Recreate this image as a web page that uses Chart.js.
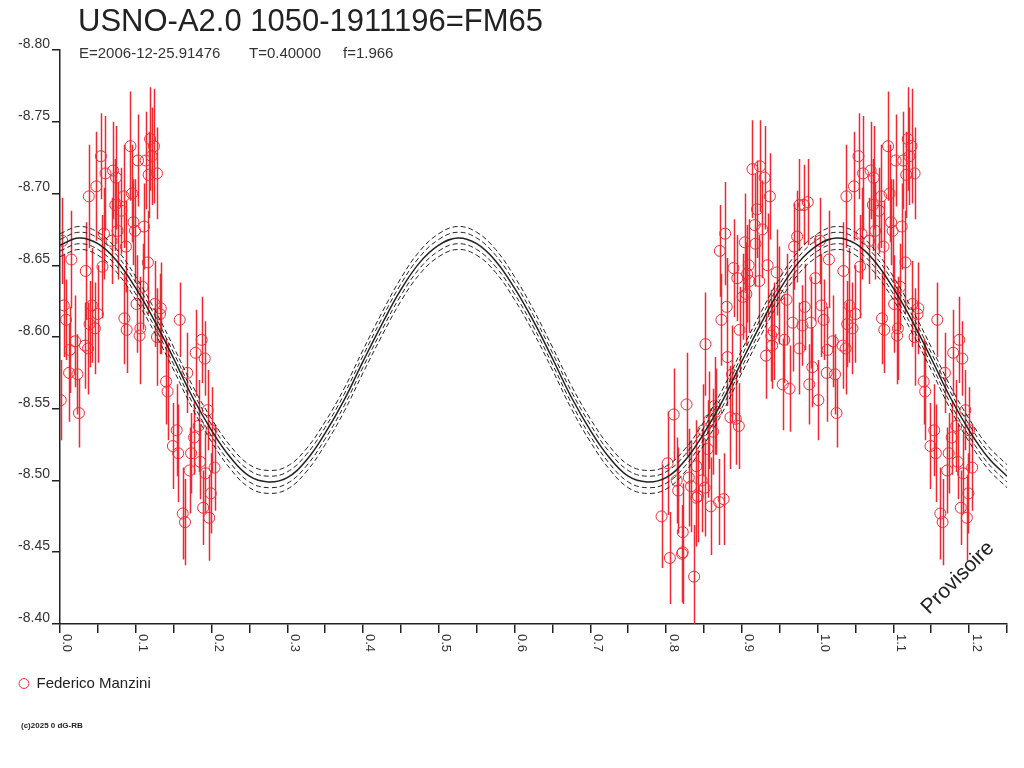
<!DOCTYPE html>
<html>
<head>
<meta charset="utf-8">
<title>USNO-A2.0 1050-1911196=FM65</title>
<script src="https://cdn.jsdelivr.net/npm/chart.js@4.4.1/dist/chart.umd.min.js"></script>
<style>
    html, body { margin: 0; padding: 0; background: #fff; }
    #wrap { position: relative; width: 1024px; height: 768px; }
</style>
</head>
<body>
<div id="wrap"><canvas id="lightCurve"></canvas></div>
<script>
// observations, phase 0.0 - 0.2 (shown again one cycle later)
const obsPhaseA = [
    0.003, 0.015, 0.005, 0.008, 0.020, 0.033, 0.034, 0.038, 0.042, 0.039,
    0.046, 0.050, 0.048, 0.054, 0.056, 0.058, 0.060, 0.070, 0.074, 0.068,
    0.073, 0.076, 0.081, 0.084, 0.087, 0.093, 0.095, 0.097, 0.099, 0.103,
    0.111, 0.113, 0.119, 0.124, 0.121, 0.117, 0.128, 0.116, 0.109, 0.101,
    0.085, 0.088, 0.106, 0.105, 0.125, 0.133, 0.132, 0.128, 0.158, 0.187,
    0.001, 0.012, 0.013, 0.023, 0.025, 0.037, 0.140, 0.142, 0.168, 0.179,
    0.191, 0.154, 0.149, 0.156, 0.173, 0.171, 0.177, 0.183, 0.195, 0.200,
    0.185, 0.192, 0.204, 0.199, 0.189, 0.197, 0.162, 0.165
];
const obsMagA = [
    -8.667, -8.654, -8.622, -8.612, -8.597, -8.594, -8.646, -8.698, -8.622, -8.609,
    -8.606, -8.616, -8.705, -8.726, -8.649, -8.672, -8.714, -8.716, -8.711, -8.667,
    -8.692, -8.674, -8.688, -8.698, -8.663, -8.733, -8.700, -8.680, -8.674, -8.723,
    -8.677, -8.723, -8.738, -8.733, -8.726, -8.713, -8.714, -8.652, -8.635, -8.623,
    -8.613, -8.605, -8.606, -8.601, -8.623, -8.620, -8.616, -8.600, -8.612, -8.598,
    -8.556, -8.575, -8.591, -8.574, -8.547, -8.592, -8.569, -8.562, -8.575, -8.589,
    -8.585, -8.535, -8.524, -8.519, -8.519, -8.507, -8.530, -8.538, -8.549, -8.535,
    -8.513, -8.505, -8.509, -8.491, -8.481, -8.474, -8.477, -8.471
];
const obsErrA = [
    0.030, 0.034, 0.036, 0.028, 0.032, 0.030, 0.034, 0.036, 0.040, 0.030,
    0.032, 0.034, 0.038, 0.030, 0.036, 0.032, 0.040, 0.034, 0.036, 0.030,
    0.032, 0.034, 0.030, 0.036, 0.032, 0.038, 0.034, 0.030, 0.036, 0.032,
    0.030, 0.034, 0.036, 0.040, 0.034, 0.030, 0.032, 0.036, 0.030, 0.034,
    0.032, 0.030, 0.036, 0.034, 0.030, 0.032, 0.028, 0.034, 0.026, 0.030,
    0.028, 0.034, 0.030, 0.028, 0.024, 0.032, 0.030, 0.034, 0.028, 0.030,
    0.026, 0.032, 0.030, 0.034, 0.028, 0.030, 0.026, 0.032, 0.028, 0.030,
    0.026, 0.028, 0.030, 0.028, 0.026, 0.030, 0.032, 0.030
];

// observations, phase 0.79 - 1.0
const obsPhaseB = [
    0.914, 0.924, 0.930, 0.937, 0.920, 0.976, 0.987, 0.982, 0.917, 0.927,
    0.878, 0.871, 0.904, 0.918, 0.973, 0.969, 0.889, 0.934, 0.909, 0.946,
    0.907, 0.894, 0.910, 0.923, 0.997, 0.949, 0.959, 0.901, 0.906, 0.880,
    0.873, 0.983, 0.967, 0.980, 0.991, 0.897, 0.942, 0.939, 0.956, 0.852,
    0.940, 0.976, 0.881, 0.932, 0.993, 0.887, 0.954, 0.963, 0.989, 0.827,
    0.810, 0.864, 0.866, 0.885, 0.892, 0.896, 0.857, 0.849, 0.862, 0.855,
    0.802, 0.840, 0.830, 0.814, 0.847, 0.833, 0.851, 0.816, 0.842, 0.840,
    0.876, 0.870, 0.859, 0.794, 0.822, 0.822, 0.821, 0.805, 0.837
];
const obsMagB = [
    -8.717, -8.719, -8.711, -8.698, -8.689, -8.692, -8.694, -8.692, -8.678, -8.675,
    -8.672, -8.660, -8.666, -8.665, -8.670, -8.663, -8.648, -8.650, -8.650, -8.645,
    -8.644, -8.641, -8.639, -8.639, -8.641, -8.629, -8.626, -8.628, -8.630, -8.621,
    -8.612, -8.621, -8.610, -8.608, -8.610, -8.605, -8.604, -8.601, -8.598, -8.595,
    -8.594, -8.592, -8.586, -8.587, -8.579, -8.574, -8.567, -8.564, -8.567, -8.553,
    -8.546, -8.552, -8.548, -8.544, -8.543, -8.538, -8.542, -8.535, -8.534, -8.522,
    -8.512, -8.510, -8.502, -8.500, -8.500, -8.496, -8.495, -8.493, -8.489, -8.488,
    -8.487, -8.485, -8.482, -8.475, -8.464, -8.450, -8.449, -8.446, -8.433
];
const obsErrB = [
    0.034, 0.032, 0.036, 0.030, 0.034, 0.032, 0.030, 0.028, 0.036, 0.034,
    0.036, 0.032, 0.034, 0.030, 0.032, 0.030, 0.034, 0.036, 0.032, 0.030,
    0.034, 0.030, 0.036, 0.032, 0.030, 0.034, 0.032, 0.030, 0.036, 0.034,
    0.032, 0.030, 0.034, 0.028, 0.032, 0.030, 0.034, 0.032, 0.030, 0.036,
    0.030, 0.032, 0.034, 0.030, 0.028, 0.034, 0.032, 0.030, 0.028, 0.036,
    0.032, 0.034, 0.030, 0.036, 0.032, 0.030, 0.034, 0.032, 0.030, 0.034,
    0.036, 0.032, 0.034, 0.030, 0.036, 0.032, 0.034, 0.030, 0.032, 0.034,
    0.032, 0.030, 0.034, 0.036, 0.034, 0.036, 0.034, 0.032, 0.036
];

// fitted light curve
const fitPhase = [
    0.000, 0.025, 0.050, 0.075, 0.100, 0.125, 0.150, 0.175, 0.200, 0.225,
    0.250, 0.275, 0.300, 0.325, 0.350, 0.375, 0.400, 0.425, 0.450, 0.475,
    0.500, 0.525, 0.550, 0.575, 0.600, 0.625, 0.650, 0.675, 0.700, 0.725,
    0.750, 0.775, 0.800, 0.825, 0.850, 0.875, 0.900, 0.925, 0.950, 0.975,
    1.000, 1.025, 1.050, 1.075, 1.100, 1.125, 1.150, 1.175, 1.200, 1.225,
    1.250
];
const fitMag = [
    -8.664, -8.669, -8.665, -8.653, -8.634, -8.611, -8.585, -8.558, -8.535, -8.516,
    -8.503, -8.499, -8.502, -8.514, -8.533, -8.556, -8.583, -8.609, -8.633, -8.652,
    -8.664, -8.669, -8.665, -8.653, -8.634, -8.611, -8.585, -8.558, -8.535, -8.516,
    -8.503, -8.499, -8.502, -8.514, -8.533, -8.556, -8.583, -8.609, -8.633, -8.652,
    -8.664, -8.669, -8.665, -8.653, -8.634, -8.611, -8.585, -8.558, -8.535, -8.516,
    -8.503
];
// spread of the dashed envelopes (mag)
const fitBand1 = 0.004;
const fitBand2 = 0.008;

const observer = "Federico Manzini";
const starName = "USNO-A2.0 1050-1911196=FM65";
const infoParts = ["E=2006-12-25.91476", "T=0.40000", "f=1.966"];
const footer = "(c)2025 0 dG-RB";
const stamp = "Provisoire";

const red = "#ee2a30";
const ink = "#222222";
const font = "'Liberation Sans', Arial, sans-serif";

// points + error bars, the early phases repeated one cycle later
let points = [];
let errors = [];
obsPhaseA.forEach( ( p, i ) => { points.push( { x: p, y: obsMagA[i] } ); errors.push( obsErrA[i] ); } );
obsPhaseB.forEach( ( p, i ) => { points.push( { x: p, y: obsMagB[i] } ); errors.push( obsErrB[i] ); } );
obsPhaseA.forEach( ( p, i ) => { points.push( { x: p + 1, y: obsMagA[i] } ); errors.push( obsErrA[i] ); } );

function fitLine( offset ) {
    return fitPhase.map( ( p, i ) => ( { x: p, y: fitMag[i] + offset } ) );
}

function curveSet( offset, dashed ) {
    return {
        label: "fit",
        data: fitLine( offset ),
        showLine: true,
        borderColor: ink,
        borderWidth: dashed ? 1 : 1.5,
        borderDash: dashed ? [5, 3] : [],
        pointRadius: 0,
        tension: 0.4,
        fill: false,
        order: 0,
    };
}

const errorBars = {
    id: "errorBars",
    beforeDatasetsDraw( chart ) {
        const ctx = chart.ctx;
        const xs = chart.scales.x;
        const ys = chart.scales.y;
        const area = chart.chartArea;
        const ds = chart.data.datasets[0];
        ctx.save();
        ctx.beginPath();
        ctx.rect( area.left, area.top, area.right - area.left, area.bottom - area.top );
        ctx.clip();
        ctx.strokeStyle = red;
        ctx.lineWidth = 1.5;
        ctx.beginPath();
        ds.data.forEach( ( pt, i ) => {
            const px = Math.round( xs.getPixelForValue( pt.x ) ) + 0.5;
            ctx.moveTo( px, ys.getPixelForValue( pt.y - ds.errorBars[i] ) );
            ctx.lineTo( px, ys.getPixelForValue( pt.y + ds.errorBars[i] ) );
        } );
        ctx.stroke();
        ctx.restore();
    }
};

const decorations = {
    id: "decorations",
    afterDraw( chart ) {
        const ctx = chart.ctx;
        const xs = chart.scales.x;
        ctx.save();
        ctx.fillStyle = ink;
        ctx.textBaseline = "alphabetic";
        ctx.textAlign = "left";

        ctx.font = "31px " + font;
        ctx.fillText( starName, 78, 31 );

        ctx.font = "15px " + font;
        ctx.fillStyle = "#333";
        ctx.fillText( infoParts[0], 79, 58 );
        ctx.fillText( infoParts[1], 249, 58 );
        ctx.fillText( infoParts[2], 343, 58 );

        // phase labels, turned clockwise
        ctx.font = "13px " + font;
        ctx.textBaseline = "middle";
        xs.ticks.forEach( t => {
            const n = Math.round( t.value * 20 );
            if ( n % 2 !== 0 ) return;
            const px = xs.getPixelForValue( t.value );
            ctx.save();
            ctx.translate( px + 7, xs.top + 10 );
            ctx.rotate( Math.PI / 2 );
            ctx.fillText( ( n / 20 ).toFixed( 1 ), 0, 0 );
            ctx.restore();
        } );

        ctx.fillStyle = ink;
        ctx.font = "21px " + font;
        ctx.textAlign = "center";
        ctx.save();
        ctx.translate( 958, 578 );
        ctx.rotate( -Math.PI / 4 );
        ctx.fillText( stamp, 0, 0 );
        ctx.restore();

        ctx.textAlign = "left";
        ctx.textBaseline = "alphabetic";
        ctx.font = "bold 8px " + font;
        ctx.fillText( footer, 21, 728 );
        ctx.restore();
    }
};

new Chart( document.getElementById( "lightCurve" ), {
    type: "scatter",
    data: {
        datasets: [
            {
                label: observer,
                data: points,
                errorBars: errors,
                pointStyle: "circle",
                pointRadius: 5.5,
                borderColor: red,
                backgroundColor: "rgba(0,0,0,0)",
                borderWidth: 1,
                order: 1,
            },
            curveSet( 0, false ),
            curveSet( -fitBand1, true ),
            curveSet( fitBand1, true ),
            curveSet( -fitBand2, true ),
            curveSet( fitBand2, true ),
        ]
    },
    options: {
        responsive: true,
        maintainAspectRatio: false,
        animation: false,
        layout: {
            autoPadding: false,
            padding: { top: 50, right: 17, bottom: 67, left: 9 }
        },
        scales: {
            x: {
                type: "linear",
                min: 0,
                max: 1.25,
                afterFit( scale ) { scale.height = 42; },
                ticks: { stepSize: 0.05, display: false },
                grid: { drawOnChartArea: false, drawTicks: true, tickLength: 9, color: ink, lineWidth: 1.5 },
                border: { display: true, color: ink, width: 1.5 },
            },
            y: {
                type: "linear",
                reverse: true,
                min: -8.80,
                max: -8.40,
                afterFit( scale ) { scale.width = 51; },
                ticks: {
                    stepSize: 0.05,
                    padding: 2,
                    labelOffset: -6,
                    color: "#333",
                    font: { size: 14, family: font },
                    callback: v => v.toFixed( 2 ),
                },
                grid: { drawOnChartArea: false, drawTicks: true, tickLength: 8, color: ink, lineWidth: 1.5 },
                border: { display: true, color: ink, width: 1.5 },
            }
        },
        plugins: {
            title: { display: false },
            tooltip: { enabled: false },
            legend: {
                display: true,
                position: "bottom",
                align: "start",
                labels: {
                    filter: item => item.datasetIndex === 0,
                    usePointStyle: true,
                    pointStyle: "circle",
                    boxWidth: 10,
                    boxHeight: 7,
                    padding: 10,
                    color: ink,
                    font: { size: 15, family: font },
                }
            }
        }
    },
    plugins: [errorBars, decorations]
} );
</script>
</body>
</html>
